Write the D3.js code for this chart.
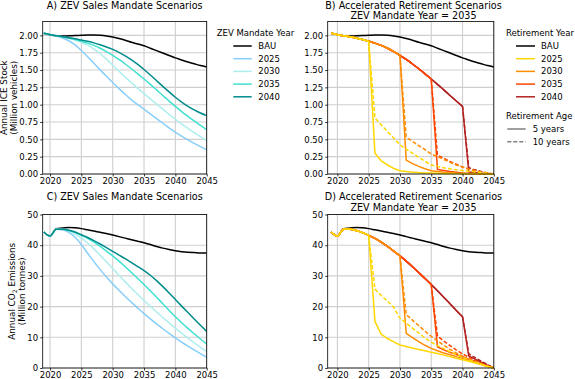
<!DOCTYPE html>
<html><head><meta charset="utf-8">
<script src="https://cdn.jsdelivr.net/npm/d3@7/dist/d3.min.js"></script>
<style>body{margin:0;background:#fff}svg{display:block}text{font-family:"DejaVu Sans",sans-serif;fill:#000}</style>
</head><body>
<script>
// ---------------- DATA ----------------
const years = d3.range(2019, 2046);
const xTicks = [2020, 2025, 2030, 2035, 2040, 2045];
const stockTicks = [0, 0.25, 0.5, 0.75, 1.0, 1.25, 1.5, 1.75, 2.0];
const co2Ticks = [0, 10, 20, 30, 40, 50];
const seriesLabels = ["BAU", "2025", "2030", "2035", "2040"];
const retireYears = [2025, 2030, 2035, 2040];
const ageLabels = ["5 years", "10 years"];

// Panel A: annual ICE stock (million vehicles), 2019..2045
const stockBAU  = [2.03,2.01,1.995,1.99,1.993,1.997,2.0,2.004,2.005,2.0,1.99,1.975,1.955,1.93,1.90,1.875,1.85,1.815,1.78,1.745,1.71,1.675,1.645,1.615,1.59,1.565,1.545];
const stock2025 = [2.03,2.01,1.99,1.962,1.922,1.862,1.782,1.692,1.597,1.502,1.409,1.319,1.232,1.149,1.07,1.0,0.934,0.866,0.799,0.732,0.666,0.60,0.545,0.493,0.443,0.395,0.35];
const stock2030 = [2.03,2.01,1.993,1.977,1.957,1.932,1.90,1.858,1.803,1.735,1.657,1.57,1.482,1.397,1.315,1.236,1.16,1.084,1.009,0.935,0.862,0.79,0.722,0.658,0.597,0.538,0.48];
const stock2035 = [2.03,2.01,1.994,1.979,1.962,1.94,1.915,1.888,1.855,1.814,1.766,1.712,1.652,1.587,1.518,1.445,1.37,1.293,1.213,1.133,1.053,0.975,0.901,0.831,0.765,0.701,0.64];
const stock2040 = [2.03,2.01,1.995,1.981,1.966,1.95,1.932,1.914,1.892,1.865,1.833,1.797,1.755,1.705,1.647,1.581,1.507,1.428,1.346,1.264,1.184,1.107,1.037,0.977,0.925,0.88,0.842];

// Panel C: annual CO2 emissions (million tonnes), 2019..2045
const co2BAU   = [44.3,43.0,45.4,45.6,45.8,45.7,45.4,45.0,44.6,44.2,43.8,43.3,42.8,42.3,41.8,41.3,40.8,40.2,39.6,39.05,38.6,38.2,37.9,37.7,37.6,37.5,37.5];
const co2_2025 = [44.3,43.0,45.2,45.0,44.2,42.6,40.2,37.4,34.65,32.05,29.65,27.4,25.3,23.3,21.38,19.52,17.7,16.0,14.36,12.78,11.26,9.8,8.42,7.12,5.88,4.68,3.5];
const co2_2030 = [44.3,43.0,45.2,45.1,44.7,43.7,42.3,40.7,38.8,36.75,34.6,32.4,30.2,28.05,25.98,23.98,22.0,20.1,18.25,16.45,14.7,13.0,11.35,9.75,8.22,6.75,5.3];
const co2_2035 = [44.3,43.0,45.2,45.2,44.8,44.1,43.2,42.2,41.0,39.6,38.1,36.5,34.8,33.0,31.1,29.15,27.2,25.15,23.05,20.9,18.75,16.7,14.75,12.9,11.15,9.45,7.8];
const co2_2040 = [44.3,43.0,45.2,45.2,44.9,44.3,43.4,42.5,41.5,40.4,39.2,38.0,36.8,35.6,34.35,33.05,31.7,30.2,28.45,26.5,24.45,22.3,20.15,18.05,15.98,13.93,11.9];

// Panels B & D: values after the retirement year (year+1 .. 2045), ZEV mandate 2035
const stockRet2025_5  = [0.30,0.19,0.13,0.08,0.048,0.035,0.027,0.02,0.016,0.013,0.011,0.009,0.007,0.006,0.005,0.004,0.003,0.002,0.001,0];
const stockRet2025_10 = [0.81,0.71,0.61,0.52,0.42,0.36,0.30,0.24,0.185,0.13,0.11,0.09,0.075,0.06,0.05,0.04,0.03,0.02,0.01,0];
const stockRet2030_5  = [0.20,0.15,0.11,0.075,0.048,0.035,0.025,0.018,0.012,0.008,0.005,0.003,0.002,0.001,0];
const stockRet2030_10 = [0.53,0.47,0.41,0.35,0.29,0.25,0.21,0.17,0.13,0.10,0.07,0.05,0.03,0.015,0];
const stockRet2035_5  = [0.065,0.05,0.035,0.025,0.015,0.01,0.006,0.003,0.001,0];
const stockRet2035_10 = [0.27,0.23,0.18,0.14,0.10,0.07,0.045,0.025,0.01,0];
const stockRet2040_5  = [0.03,0.02,0.01,0.005,0];
const stockRet2040_10 = [0.09,0.06,0.035,0.015,0];

const co2Ret2025_5  = [15.2,11.0,9.6,8.5,7.5,7.0,6.5,6.0,5.6,5.1,4.7,4.2,3.7,3.2,2.7,2.2,1.6,1.1,0.5,0];
const co2Ret2025_10 = [25.7,23.6,21.8,19.8,16.2,14.6,13.0,11.4,9.8,8.4,7.3,6.3,5.3,4.4,3.5,2.7,2.0,1.3,0.6,0];
const co2Ret2030_5  = [11.3,9.9,8.6,7.4,6.4,5.6,4.9,4.3,3.7,3.2,2.6,1.9,1.2,0.6,0];
const co2Ret2030_10 = [17.4,15.6,13.8,12.0,10.3,8.8,7.4,6.1,4.9,3.8,2.8,1.9,1.1,0.5,0];
const co2Ret2035_5  = [6.9,5.9,5.1,4.4,3.7,2.9,2.1,1.3,0.6,0];
const co2Ret2035_10 = [10.4,8.8,7.3,5.9,4.6,3.5,2.5,1.5,0.7,0];
const co2Ret2040_5  = [3.9,2.9,1.9,0.9,0];
const co2Ret2040_10 = [4.6,3.4,2.2,1.1,0];

// ---------------- STYLE ----------------
const mandateColors = ["#000000", "#87cefa", "#afeeee", "#40e0d0", "#008b8b"];
const retireColors  = ["#000000", "#ffd700", "#ff8c00", "#ff4500", "#b22222"];
const FONT_TICK = 8.5, FONT_TITLE = 9.6, FONT_LAB = 8.8, FONT_LEG = 8.5;
const DASH = "4,2";

const svg = d3.select("body").append("svg").attr("width", 575).attr("height", 379);

function makePanel(cfg) {
  const x = d3.scaleLinear().domain(cfg.xDomain).range([cfg.x0, cfg.x1]);
  const y = d3.scaleLinear().domain(cfg.yDomain).range([cfg.y1, cfg.y0]);
  const g = svg.append("g");
  const id = "clip" + cfg.name;
  svg.append("clipPath").attr("id", id).append("rect")
    .attr("x", cfg.x0).attr("y", cfg.y0 - 1).attr("width", cfg.x1 - cfg.x0).attr("height", cfg.y1 - cfg.y0 + 2);
  g.selectAll(".gx").data(cfg.xTicks).enter().append("line")
    .attr("x1", d => x(d)).attr("x2", d => x(d)).attr("y1", cfg.y0).attr("y2", cfg.y1)
    .attr("stroke", "#cfcfcf").attr("stroke-width", 1.1);
  g.selectAll(".gy").data(cfg.yTicks).enter().append("line")
    .attr("y1", d => y(d)).attr("y2", d => y(d)).attr("x1", cfg.x0).attr("x2", cfg.x1)
    .attr("stroke", "#cfcfcf").attr("stroke-width", 1.1);
  const lines = g.append("g").attr("clip-path", `url(#${id})`);
  const xa = g.append("g").attr("transform", `translate(0,${cfg.y1})`)
    .call(d3.axisBottom(x).tickValues(cfg.xTicks).tickFormat(d3.format("d")).tickSizeOuter(0).tickSizeInner(2.5).tickPadding(1.3));
  const ya = g.append("g").attr("transform", `translate(${cfg.x0},0)`)
    .call(d3.axisLeft(y).tickValues(cfg.yTicks).tickFormat(cfg.yFmt).tickSizeOuter(0).tickSizeInner(2.5).tickPadding(2));
  [xa, ya].forEach(a => {
    a.select(".domain").remove();
    a.selectAll("text").attr("font-size", FONT_TICK).attr("font-family", "DejaVu Sans").attr("fill", "#000");
    a.selectAll("line").attr("stroke", "#000").attr("stroke-width", 0.8);
  });
  g.append("rect").attr("x", cfg.x0).attr("y", cfg.y0).attr("width", cfg.x1 - cfg.x0).attr("height", cfg.y1 - cfg.y0)
    .attr("fill", "none").attr("stroke", "#000").attr("stroke-width", 0.8);
  cfg.title.forEach((t, i) => {
    g.append("text").attr("x", cfg.titleX).attr("y", cfg.titleY + i * 10.6).attr("text-anchor", "middle")
      .attr("font-size", FONT_TITLE).text(t);
  });
  return {x, y, lines, g};
}

function drawLine(p, xs, vs, color, dashed, smooth) {
  const line = d3.line().x(d => p.x(d[0])).y(d => p.y(d[1])).curve(smooth ? d3.curveMonotoneX : d3.curveLinear);
  p.lines.append("path").datum(xs.map((v, i) => [v, vs[i]]))
    .attr("d", line).attr("fill", "none").attr("stroke", color).attr("stroke-width", 1.5)
    .attr("stroke-dasharray", dashed ? DASH : null).attr("stroke-linejoin", "round");
}

// retirement scenario: mandate curve up to the retirement year, then the retirement tail
function drawRetire(p, base, ry, tail, color, dashed) {
  const pre = years.filter(yr => yr <= ry);
  drawLine(p, pre, pre.map(yr => base[years.indexOf(yr)]), color, false, true);
  const xs = [ry].concat(tail.map((_, i) => ry + 1 + i));
  const vs = [base[years.indexOf(ry)]].concat(tail);
  drawLine(p, xs, vs, color, dashed, false);
}

const fmt2 = d3.format(".2f"), fmt0 = d3.format("d");
const A = makePanel({name: "A", x0: 42.7, x1: 206.7, y0: 21.5, y1: 174, xDomain: [2018.83, 2045], yDomain: [0, 2.2],
  xTicks, yTicks: stockTicks, yFmt: fmt2, title: ["A) ZEV Sales Mandate Scenarios"], titleX: 124.7, titleY: 8.5});
const B = makePanel({name: "B", x0: 327.7, x1: 493.8, y0: 21.5, y1: 174, xDomain: [2018.45, 2045], yDomain: [0, 2.2],
  xTicks, yTicks: stockTicks, yFmt: fmt2, title: ["B) Accelerated Retirement Scenarios", "ZEV Mandate Year = 2035"], titleX: 413.5, titleY: 8.5});
const C = makePanel({name: "C", x0: 42.7, x1: 206.7, y0: 214.5, y1: 368, xDomain: [2018.83, 2045], yDomain: [0, 50],
  xTicks, yTicks: co2Ticks, yFmt: fmt0, title: ["C) ZEV Sales Mandate Scenarios"], titleX: 124.7, titleY: 200.3});
const D = makePanel({name: "D", x0: 327.7, x1: 493.8, y0: 214.5, y1: 368, xDomain: [2018.45, 2045], yDomain: [0, 50],
  xTicks, yTicks: co2Ticks, yFmt: fmt0, title: ["D) Accelerated Retirement Scenarios", "ZEV Mandate Year = 2035"], titleX: 413.5, titleY: 200.3});

[stockBAU, stock2025, stock2030, stock2035, stock2040].forEach((s, i) => drawLine(A, years, s, mandateColors[i], false, true));
[co2BAU, co2_2025, co2_2030, co2_2035, co2_2040].forEach((s, i) => drawLine(C, years, s, mandateColors[i], false, true));

drawLine(B, years, stockBAU, "#000", false, true);
drawLine(D, years, co2BAU, "#000", false, true);
const stockTails = [[stockRet2025_5, stockRet2025_10], [stockRet2030_5, stockRet2030_10], [stockRet2035_5, stockRet2035_10], [stockRet2040_5, stockRet2040_10]];
const co2Tails = [[co2Ret2025_5, co2Ret2025_10], [co2Ret2030_5, co2Ret2030_10], [co2Ret2035_5, co2Ret2035_10], [co2Ret2040_5, co2Ret2040_10]];
for (let k = retireYears.length - 1; k >= 0; k--) {
  const ry = retireYears[k], col = retireColors[k + 1];
  [1, 0].forEach(a => {
    drawRetire(B, stock2035, ry, stockTails[k][a], col, a === 1);
    drawRetire(D, co2_2035, ry, co2Tails[k][a], col, a === 1);
  });
}

function yLabel(cx, cy, draw) {
  const t = svg.append("text").attr("transform", `translate(${cx},${cy}) rotate(-90)`).attr("text-anchor", "middle").attr("font-size", FONT_LAB);
  draw(t);
}
yLabel(0, 97.7, t => {
  t.append("tspan").attr("x", 0).attr("y", 6.8).text("Annual ICE Stock");
  t.append("tspan").attr("x", 0).attr("y", 16.7).text("(Million vehicles)");
});
yLabel(0, 291.3, t => {
  const l1 = t.append("tspan").attr("x", 0).attr("y", 15.2);
  l1.append("tspan").text("Annual CO");
  l1.append("tspan").attr("font-size", FONT_LAB * 0.7).attr("dy", 2).text("2");
  l1.append("tspan").attr("dy", -2).text(" Emissions");
  t.append("tspan").attr("x", 0).attr("y", 25.4).text("(Million tonnes)");
});

function legendBlock(titleX, titleY, lineX0, lineX1, textX, rowY0, rowStep, title, labels, colors, dashes) {
  svg.append("text").attr("x", titleX).attr("y", titleY).attr("font-size", FONT_LEG).text(title);
  labels.forEach((lab, i) => {
    const yy = rowY0 + i * rowStep;
    svg.append("line").attr("x1", lineX0).attr("x2", lineX1).attr("y1", yy).attr("y2", yy)
      .attr("stroke", colors[i]).attr("stroke-width", 1.5).attr("stroke-dasharray", dashes ? dashes[i] : null);
    svg.append("text").attr("x", textX).attr("y", yy).attr("dy", "0.35em").attr("font-size", FONT_LEG).text(lab);
  });
}
legendBlock(216.7, 36.2, 233.3, 251.7, 258.3, 46, 12.7, "ZEV Mandate Year", seriesLabels, mandateColors, null);
legendBlock(506, 36.2, 516, 535, 541, 46, 12.7, "Retirement Year", seriesLabels, retireColors, null);
legendBlock(506, 119, 507.3, 525.7, 532.7, 129, 12.7, "Retirement Age", ageLabels, ["#808080", "#808080"], [null, DASH]);
</script>
</body></html>
